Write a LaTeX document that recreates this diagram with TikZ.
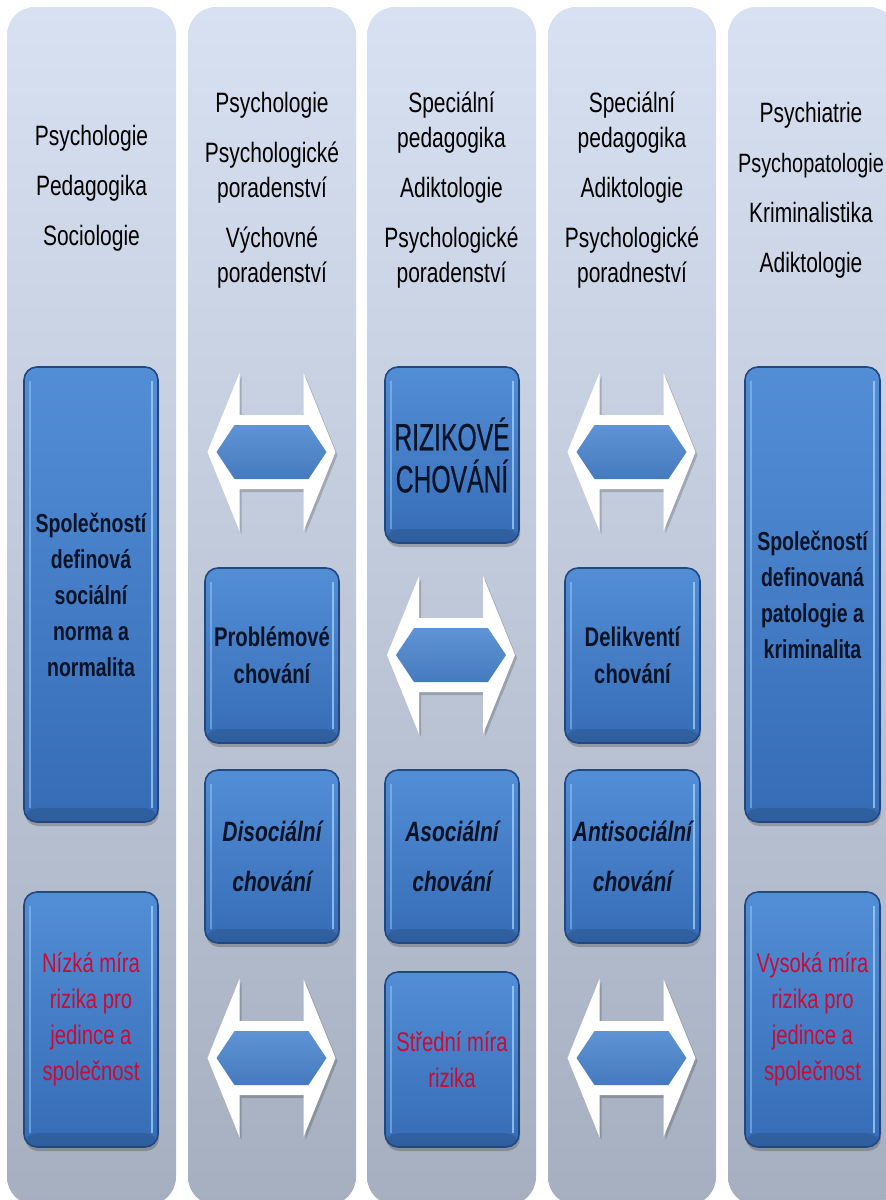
\documentclass[tikz,border=0pt]{standalone}
\usepackage{fontspec}
\setmainfont{Liberation Sans}[FakeStretch=0.75]
\newfontfamily\rizfont{Liberation Sans}[FakeStretch=0.65,FakeBold=0.5]
\usetikzlibrary{shadows}
\definecolor{colTop}{RGB}{216,225,241}
\definecolor{colBot}{RGB}{166,175,192}
\definecolor{boxTop}{RGB}{82,142,214}
\definecolor{boxBot}{RGB}{54,108,182}
\definecolor{boxRim}{RGB}{34,72,130}
\definecolor{boxHi}{RGB}{165,210,248}
\definecolor{arrTop}{RGB}{94,148,214}
\definecolor{arrBot}{RGB}{70,122,190}
\definecolor{txtDark}{RGB}{10,18,38}
\definecolor{txtRed}{RGB}{200,12,52}
\tikzset{
  column/.style={rounded corners=28pt, top color=colTop, bottom color=colBot, draw=none},
  bluebox/.style={rectangle, rounded corners=13pt, draw=boxRim, line width=1.6pt,
    top color=boxTop, bottom color=boxBot, inner sep=0pt, align=center, text=txtDark,
    drop shadow={shadow xshift=1pt, shadow yshift=-4pt, opacity=0.35, fill=black!70},
    path picture={
      \draw[boxHi, line width=2.5pt, opacity=0.75] ([xshift=-6pt,yshift=-14pt]path picture bounding box.north east) -- ([xshift=-6pt,yshift=14pt]path picture bounding box.south east);
      \draw[boxHi, line width=2pt, opacity=0.45] ([xshift=6pt,yshift=-14pt]path picture bounding box.north west) -- ([xshift=6pt,yshift=14pt]path picture bounding box.south west);
      \fill[black, opacity=0.12] ([yshift=14pt]path picture bounding box.south west) rectangle (path picture bounding box.south east);
    }},
  header/.style={align=center, font=\fontsize{28}{35}\selectfont, text=black},
  boldtxt/.style={font=\bfseries\fontsize{27}{37}\selectfont},
  bigtxt/.style={font=\bfseries\fontsize{26}{36}\selectfont},
  itxt/.style={font=\bfseries\itshape\fontsize{28}{50}\selectfont},
  redtxt/.style={font=\fontsize{27}{36}\selectfont, text=txtRed},
  riztxt/.style={font=\rizfont\fontsize{38}{42}\selectfont},
  dblarrow/.pic={
    \fill[black, opacity=0.18, shift={(2,3)}] (-64,0) -- (-32,-79) -- (-32,-37) -- (32,-37) -- (32,-79) -- (64,0) -- (32,79) -- (32,37) -- (-32,37) -- (-32,79) -- cycle;
    \fill[white] (-64,0) -- (-32,-79) -- (-32,-37) -- (32,-37) -- (32,-79) -- (64,0) -- (32,79) -- (32,37) -- (-32,37) -- (-32,79) -- cycle;
    \shade[top color=arrTop, bottom color=arrBot] (-55,0) -- (-37,-27) -- (37,-27) -- (55,0) -- (37,27) -- (-37,27) -- cycle;
  }
}
\begin{document}
\begin{tikzpicture}[x=1pt,y=-1pt]
\useasboundingbox (0,0) rectangle (886,1200);
\clip (0,0) rectangle (886,1200);
\fill[white] (0,0) rectangle (886,1200);
% columns
\path[column] (7,7) rectangle (176,1205);
\path[column] (188,7) rectangle (356,1205);
\path[column] (367,7) rectangle (536,1205);
\path[column] (548,7) rectangle (716,1205);
\path[column] (728,7) rectangle (897,1205);
% headers
\node[header] (h1) at (91.5,188) {Psychologie\\[15pt]Pedagogika\\[15pt]Sociologie};
\node[header] (h2) at (272,190) {Psychologie\\[15pt]Psychologické\\poradenství\\[15pt]Výchovné\\poradenství};
\node[header] (h3) at (451.5,190) {Speciální\\pedagogika\\[15pt]Adiktologie\\[15pt]Psychologické\\poradenství};
\node[header] (h4) at (632,190) {Speciální\\pedagogika\\[15pt]Adiktologie\\[15pt]Psychologické\\poradneství};
\node[header] (h5) at (811,190) {Psychiatrie\\[15pt]{\fontsize{26.5}{35}\selectfont Psychopatologie}\\[15pt]Kriminalistika\\[15pt]Adiktologie};
% boxes
\node[bluebox, bigtxt, minimum width=134pt, minimum height=455pt] (b1) at (91,594.5) {Společností\\definová\\sociální\\norma a\\normalita};
\node[bluebox, redtxt, minimum width=134pt, minimum height=255pt] (b2) at (91,1019.5) {Nízká míra\\rizika pro\\jedince a\\společnost};
\node[bluebox, boldtxt, minimum width=134pt, minimum height=175pt] (b3) at (272,655.5) {Problémové\\chování};
\node[bluebox, itxt, minimum width=134pt, minimum height=173pt] (b4) at (272,856.5) {Disociální\\chování};
\node[bluebox, riztxt, minimum width=134pt, minimum height=176pt] (b5) at (452,455) {RIZIKOVÉ\\CHOVÁNÍ};
\node[bluebox, itxt, minimum width=134pt, minimum height=173pt] (b6) at (452,856.5) {Asociální\\chování};
\node[bluebox, redtxt, minimum width=134pt, minimum height=175pt] (b7) at (452,1059.5) {Střední míra\\rizika};
\node[bluebox, boldtxt, minimum width=135pt, minimum height=175pt] (b8) at (632.5,655.5) {Delikventí\\chování};
\node[bluebox, itxt, minimum width=135pt, minimum height=173pt] (b9) at (632.5,856.5) {Antisociální\\chování};
\node[bluebox, bigtxt, minimum width=135pt, minimum height=455pt] (b10) at (812.5,594.5) {Společností\\definovaná\\patologie a\\kriminalita};
\node[bluebox, redtxt, minimum width=135pt, minimum height=255pt] (b11) at (812.5,1019.5) {Vysoká míra\\rizika pro\\jedince a\\společnost};
% arrows
\pic (a1) at (271.5,452) {dblarrow};
\pic (a2) at (271.5,1058) {dblarrow};
\pic (a3) at (451,655) {dblarrow};
\pic (a4) at (631.5,452) {dblarrow};
\pic (a5) at (631.5,1058) {dblarrow};
\end{tikzpicture}
\end{document}
